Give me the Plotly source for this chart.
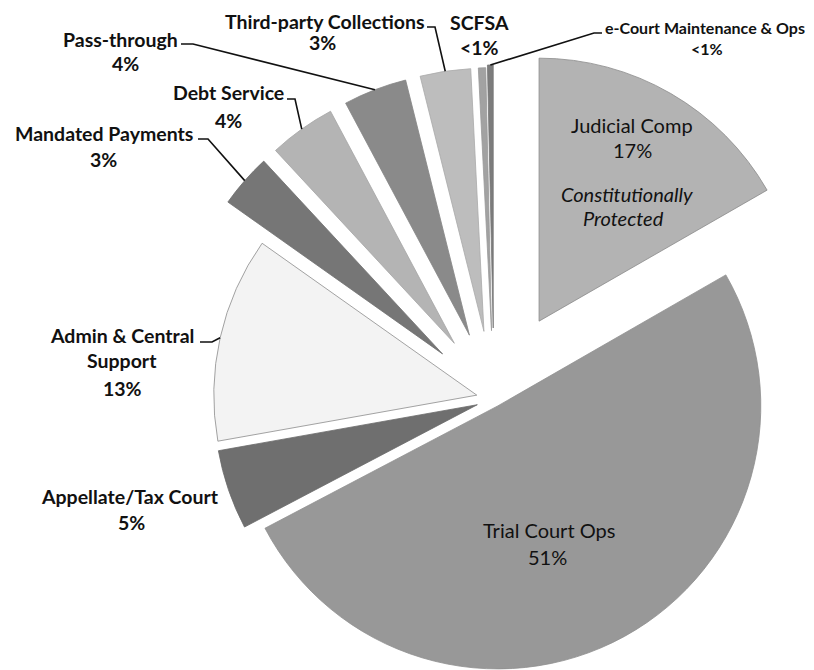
import numpy as np
import plotly.graph_objects as go

W, H = 806, 662      # figure size (page body adds an 8px margin)
OFF = 8

# ---- data ----
categories = ["Judicial Comp", "Trial Court Ops", "Appellate/Tax Court",
              "Admin & Central Support", "Mandated Payments", "Debt Service",
              "Pass-through", "Third-party Collections", "SCFSA",
              "e-Court Maintenance & Ops"]
values = [16.7, 50.6, 4.9, 12.6, 3.3, 4.1, 3.9, 3.1, 0.45, 0.35]
pct_labels = ["17%", "51%", "5%", "13%", "3%", "4%", "4%", "3%", "<1%", "<1%"]

# ---- style ----
colors = ["#b3b3b3", "#989898", "#6f6f6f", "#f3f3f3", "#767676",
          "#b4b4b4", "#8a8a8a", "#bdbdbd", "#a2a2a2", "#7c7c7c"]
line_colors = ["#8a8a8a", "#8f8f8f", "#6a6a6a", "#8c8c8c", "#707070",
               "#a5a5a5", "#858585", "#aaaaaa", "#999999", "#777777"]
pulls = [0.342, 0.03, 0.067, 0.067, 0.26, 0.26, 0.26, 0.26, 0.26, 0.27]
CX, CY, R = 494.0, 399.0, 263.0   # pie centre and radius (page px)

vals = np.array(values, dtype=float)
frac = vals / vals.sum()
ends = np.cumsum(frac) * 360.0
starts = ends - frac * 360.0
mids = np.radians((starts + ends) / 2.0)

centres = []
for i in range(len(values)):
    cx = CX + pulls[i] * R * np.sin(mids[i])
    cy = CY - pulls[i] * R * np.cos(mids[i])
    centres.append((cx, cy))

def px2paper(x, y):
    return (x - OFF) / W, 1 - (y - OFF) / H

fig = go.Figure()
n = len(values)
for i in range(n):
    cx, cy = centres[i]
    x0, y1 = px2paper(cx - R, cy - R)
    x1, y0 = px2paper(cx + R, cy + R)
    fig.add_trace(go.Pie(
        values=values, labels=categories, sort=False, direction="clockwise",
        rotation=0, textinfo="none", hoverinfo="skip", showlegend=False,
        marker=dict(
            colors=[colors[j] if j == i else "rgba(0,0,0,0)" for j in range(n)],
            line=dict(color=[line_colors[j] if j == i else "rgba(0,0,0,0)" for j in range(n)],
                      width=[0.8 if j == i else 0 for j in range(n)])),
        domain=dict(x=[max(0, x0), min(1, x1)], y=[max(0, y0), min(1, y1)])))

FONT = "Lato, 'Open Sans', sans-serif"
FS = 19.5
FSI = 20
annotations = []

def add_text(txt, x, y, size=FS, bold=True, italic=False, color="#111111"):
    t = txt
    if bold:
        t = "<b>" + t + "</b>"
    if italic:
        t = "<i>" + t + "</i>"
    xp, yp = px2paper(x, y)
    annotations.append(dict(text=t, x=xp, y=yp, xref="paper", yref="paper",
                            showarrow=False, xanchor="center", yanchor="middle",
                            font=dict(family=FONT, size=size, color=color)))

# outside labels: (index, name centre x, name y, pct centre x, pct y, name size, pct size)
outside = [
    (2, 130, 496, 131, 522, FS, FS),
    (3, None, None, 123, 388, FS, FS),
    (4, 104, 134, 103, 159, FS, FS),
    (5, 228, 92, 228, 120, FS, FS),
    (6, 120, 39, 125, 63, FS, FS),
    (7, 325, 21, 322, 43, FS, FS),
    (8, 479, 22, 479, 47, FS, FS),
    (9, 705, 27, 707, 48, 16, 16),
]
for idx, nx, ny, qx, qy, s1, s2 in outside:
    if nx is not None:
        add_text(categories[idx], nx, ny, size=s1)
    add_text(pct_labels[idx], qx, qy, size=s2)
# Admin label on two lines
add_text("Admin & Central", 122, 335)
add_text("Support", 122, 361)

# inside labels
add_text(categories[0], 632, 125, size=FSI, bold=False)
add_text(pct_labels[0], 632, 150, size=FSI, bold=False)
add_text("Constitutionally", 627, 194, size=FSI, bold=False, italic=True)
add_text("Protected", 623, 218, size=FSI, bold=False, italic=True)
add_text(categories[1], 549, 530, size=FSI, bold=False)
add_text(pct_labels[1], 547, 557, size=FSI, bold=False)

# leader lines: (index, start x, start y, elbow x)
leaders = [
    (6, 181, 44, 193),
    (5, 287, 99, 295),
    (4, 198, 139, 208),
    (7, 427, 27, 435),
    (9, 602, 33, 594),
    (3, 200, 342, 212),
]
shapes = []
for idx, sx, sy, ex in leaders:
    cx, cy = centres[idx]
    ax = cx + R * np.sin(mids[idx])
    ay = cy - R * np.cos(mids[idx])
    p = [px2paper(sx, sy), px2paper(ex, sy), px2paper(ax, ay)]
    path = "M {:.5f},{:.5f} L {:.5f},{:.5f} L {:.5f},{:.5f}".format(
        p[0][0], p[0][1], p[1][0], p[1][1], p[2][0], p[2][1])
    shapes.append(dict(type="path", path=path, xref="paper", yref="paper",
                       line=dict(color="#111111", width=1.6)))

fig.update_layout(width=W, height=H, margin=dict(l=0, r=0, t=0, b=0),
                  paper_bgcolor="white", plot_bgcolor="white",
                  annotations=annotations, shapes=shapes, showlegend=False)
fig.write_html("out.html")
